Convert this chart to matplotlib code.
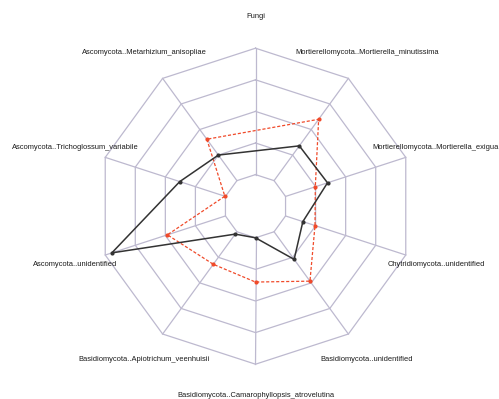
import numpy as np
import matplotlib
matplotlib.use("Agg")
import matplotlib.pyplot as plt

# Axes, counterclockwise from the top
labels = [
    "Fungi",
    "Ascomycota..Metarhizium_anisopliae",
    "Ascomycota..Trichoglossum_variabile",
    "Ascomycota..unidentified",
    "Basidiomycota..Apiotrichum_veenhuisii",
    "Basidiomycota..Camarophyllopsis_atrovelutina",
    "Basidiomycota..unidentified",
    "Chytridiomycota..unidentified",
    "Mortierellomycota..Mortierella_exigua",
    "Mortierellomycota..Mortierella_minutissima",
]

# Scaled abundances (0 = min, 1 = max); None = missing, interpolated by neighbours
group_a = [None, 0.25, 0.38, 0.945, 0.023, 0.0, 0.27, 0.144, 0.349, 0.34]
group_b = [None, 0.405, 0.005, 0.483, 0.318, 0.35, 0.483, 0.245, 0.2475, 0.60]

seg = 4          # number of grid segments
cgap = 1         # inner gap, in segments

W, H = 499, 399
fig = plt.figure(figsize=(W / 100, H / 100), dpi=100)
ax = fig.add_axes([0, 0, 1, 1])
cx, cy, R = 255.5, 206.2, 158.0
ax.set_xlim(-cx / R, (W - cx) / R)
ax.set_ylim(-(H - cy) / R, cy / R)
ax.axis("off")

n = len(labels)
theta = np.deg2rad(90 + 360 * np.arange(n) / n)
xx, yy = np.cos(theta), np.sin(theta)

grid_col = "#BDB9CF"
for i in range(seg + 1):
    f = (i + cgap) / (seg + cgap)
    ax.plot(np.append(xx, xx[0]) * f, np.append(yy, yy[0]) * f,
            color=grid_col, lw=0.9, zorder=1)
f0 = cgap / (seg + cgap)
for x, y in zip(xx, yy):
    ax.plot([x * f0, x], [y * f0, y], color=grid_col, lw=0.9, zorder=1)


def radius(v):
    return cgap / (seg + cgap) + v * seg / (seg + cgap)


def draw_series(vals, color, ls, lw):
    idx = [j for j, v in enumerate(vals) if v is not None]
    px = np.array([xx[j] * radius(vals[j]) for j in idx])
    py = np.array([yy[j] * radius(vals[j]) for j in idx])
    ax.plot(np.append(px, px[0]), np.append(py, py[0]), color=color,
            ls=ls, lw=lw, zorder=2)
    ax.scatter(px, py, s=9, color=color, zorder=3, linewidths=0)


draw_series(group_b, "#F04A2A", (0, (2.5, 1.5)), 0.9)
draw_series(group_a, "#333333", "-", 1.1)

for lab, x, y in zip(labels, xx * 1.2, yy * 1.2):
    ax.text(x, y, lab, ha="center", va="center", fontsize=5.4,
            family="Liberation Sans", color="#1a1a1a")

fig.savefig("out.png", dpi=100)
